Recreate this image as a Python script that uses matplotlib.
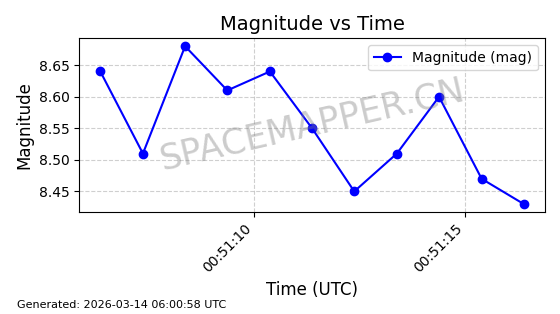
import matplotlib
matplotlib.use("Agg")
import matplotlib.pyplot as plt
import matplotlib.dates as mdates
from datetime import datetime

# Datos
times = [
    "2026-03-14 00:51:06.36", "2026-03-14 00:51:07.37", "2026-03-14 00:51:08.37",
    "2026-03-14 00:51:09.37", "2026-03-14 00:51:10.38", "2026-03-14 00:51:11.38",
    "2026-03-14 00:51:12.38", "2026-03-14 00:51:13.39", "2026-03-14 00:51:14.39",
    "2026-03-14 00:51:15.40", "2026-03-14 00:51:16.40",
]
magnitudes = [8.64, 8.51, 8.68, 8.61, 8.64, 8.55, 8.45, 8.51, 8.60, 8.47, 8.43]
time_ticks = ["2026-03-14 00:51:10", "2026-03-14 00:51:15"]

t = [datetime.strptime(s, "%Y-%m-%d %H:%M:%S.%f") for s in times]
ticks = [datetime.strptime(s, "%Y-%m-%d %H:%M:%S") for s in time_ticks]

fig, ax = plt.subplots(figsize=(5.6, 3.14), dpi=100)
ax.plot(t, magnitudes, "o-", color="blue", markersize=6, label="Magnitude (mag)")

ax.set_title("Magnitude vs Time", fontsize=14)
ax.set_xlabel("Time (UTC)", fontsize=12)
ax.set_ylabel("Magnitude", fontsize=12)
ax.set_xticks(ticks)
ax.xaxis.set_major_formatter(mdates.DateFormatter("%H:%M:%S"))
plt.setp(ax.get_xticklabels(), rotation=45, ha="right")
ax.grid(True, linestyle="--", alpha=0.6)
ax.legend(loc="upper right")

# Marca de agua
ax.text(0.5, 0.5, "SPACEMAPPER.CN", transform=ax.transAxes, fontsize=25,
        color="gray", alpha=0.4, rotation=13, ha="center", va="center")

fig.tight_layout()
fig.subplots_adjust(bottom=0.325)
fig.text(0.03, 0.02, "Generated: 2026-03-14 06:00:58 UTC", fontsize=8)

fig.savefig("out.png", dpi=100)
